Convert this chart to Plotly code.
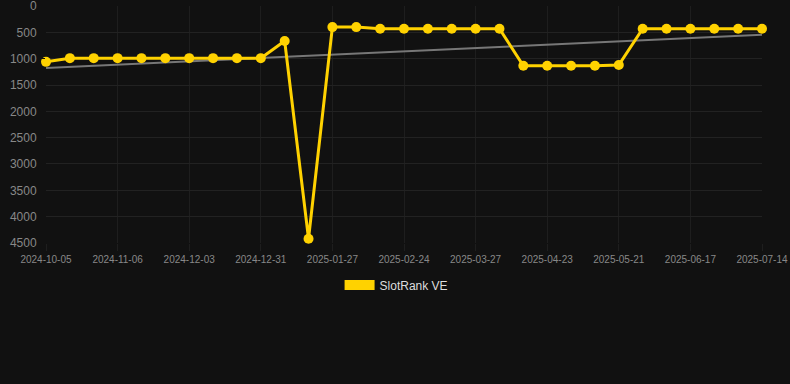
import numpy as np
import plotly.graph_objects as go

dates = [
    "2024-10-05", "2024-10-16", "2024-10-27", "2024-11-06", "2024-11-15", "2024-11-24",
    "2024-12-03", "2024-12-12", "2024-12-21", "2024-12-31", "2025-01-09", "2025-01-18",
    "2025-01-27", "2025-02-05", "2025-02-15", "2025-02-24", "2025-03-06", "2025-03-17",
    "2025-03-27", "2025-04-05", "2025-04-14", "2025-04-23", "2025-05-02", "2025-05-11",
    "2025-05-21", "2025-05-30", "2025-06-08", "2025-06-17", "2025-06-26", "2025-07-05",
    "2025-07-14",
]
rank = [
    1060, 990, 990, 990, 990, 990, 990, 990, 990, 990, 665, 4420,
    400, 400, 430, 430, 430, 430, 430, 430, 1135, 1135, 1135, 1135,
    1120, 430, 430, 430, 430, 430, 430,
]
tick_labels = dates[::3]
y_ticks = [0, 500, 1000, 1500, 2000, 2500, 3000, 3500, 4000, 4500]

idx = np.arange(len(rank))
slope, intercept = np.polyfit(idx, rank, 1)
trend = slope * idx + intercept

YELLOW = "#ffd200"
BG = "#111111"

fig = go.Figure()
fig.add_trace(go.Scatter(
    x=dates, y=trend, mode="lines",
    line=dict(color="#777777", width=2),
    showlegend=False, hoverinfo="skip",
))
fig.add_trace(go.Scatter(
    x=dates, y=rank, mode="lines+markers",
    line=dict(color=YELLOW, width=3),
    marker=dict(color=YELLOW, size=10),
    showlegend=False, cliponaxis=False,
))
fig.add_trace(go.Scatter(
    x=[None], y=[None], mode="lines", name="SlotRank VE",
    line=dict(color=YELLOW, width=12),
))

fig.update_layout(
    width=790, height=384,
    margin=dict(l=46, r=28, t=6, b=141, autoexpand=False),
    paper_bgcolor=BG, plot_bgcolor=BG,
    font=dict(family="Liberation Sans, Arial, sans-serif", color="#888888"),
    legend=dict(
        orientation="h", x=0.502, xanchor="center", xref="container",
        y=1 - 285 / 384, yanchor="middle", yref="container",
        font=dict(color="#dddddd", size=12),
        bgcolor="rgba(0,0,0,0)",
    ),
)
fig.update_xaxes(
    type="category", categoryorder="array", categoryarray=dates,
    tickmode="array", tickvals=tick_labels, ticktext=tick_labels,
    range=[0, len(dates) - 1], automargin=False, ticklabeloverflow="allow",
    showgrid=True, gridcolor="#1e1e1e", gridwidth=1,
    zeroline=False, showline=False,
    ticks="outside", ticklen=7, tickcolor="#1e1e1e",
    tickfont=dict(size=10, color="#888888"),
)
fig.update_yaxes(
    range=[4500.5, -0.5], tickmode="array", tickvals=y_ticks, automargin=False,
    ticklabeloverflow="allow",
    showgrid=True, gridcolor="#222222", gridwidth=1,
    zeroline=False, showline=False,
    ticks="outside", ticklen=6, tickcolor=BG,
    tickfont=dict(size=12, color="#888888"),
)

fig.write_html("out.html")
